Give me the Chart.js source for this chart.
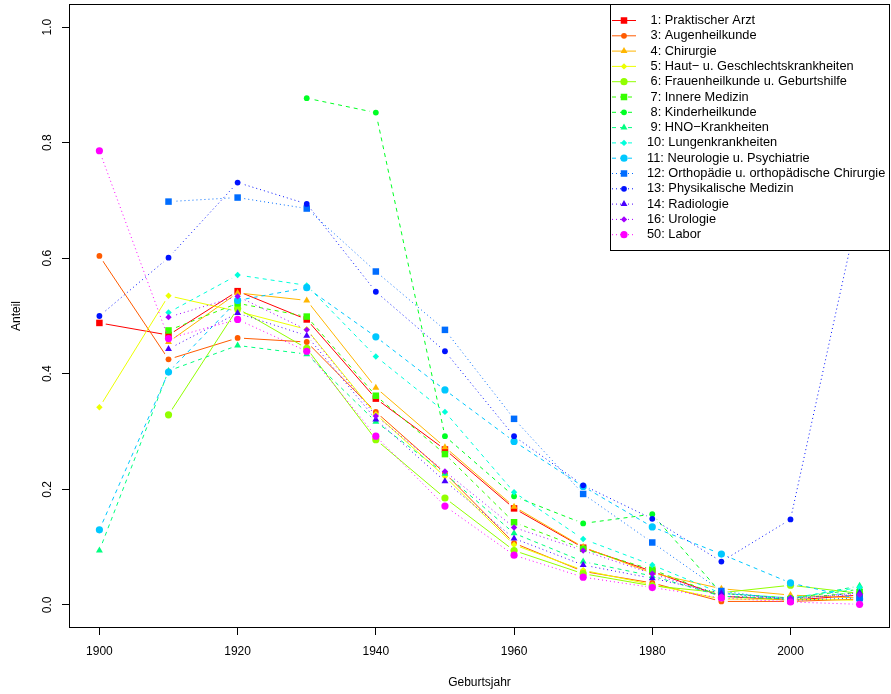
<!DOCTYPE html>
<html>
<head>
<meta charset="utf-8">
<script src="https://cdn.jsdelivr.net/npm/chart.js@4/dist/chart.umd.min.js"></script>
<style>
  html, body { margin: 0; padding: 0; background: #fff; }
  canvas { display: block; }
</style>
</head>
<body>
<canvas id="chart" width="891" height="694"></canvas>
<script>
// Birth-year cohorts (x) and share per specialty (y)
const years = [1900, 1910, 1920, 1930, 1940, 1950, 1960, 1970, 1980, 1990, 2000, 2010];
const xTickValues = [1900, 1920, 1940, 1960, 1980, 2000];
const yTickValues = [0, 0.2, 0.4, 0.6, 0.8, 1.0];

const seriesNames = [
  ' 1: Praktischer Arzt',
  ' 3: Augenheilkunde',
  ' 4: Chirurgie',
  ' 5: Haut\u2212 u. Geschlechtskrankheiten',
  ' 6: Frauenheilkunde u. Geburtshilfe',
  ' 7: Innere Medizin',
  ' 8: Kinderheilkunde',
  ' 9: HNO\u2212Krankheiten',
  '10: Lungenkrankheiten',
  '11: Neurologie u. Psychiatrie',
  '12: Orthopädie u. orthopädische Chirurgie',
  '13: Physikalische Medizin',
  '14: Radiologie',
  '16: Urologie',
  '50: Labor'
];

const praktischerArzt   = [0.488, 0.467, 0.543, 0.494, 0.357, 0.269, 0.167, 0.099, 0.058, 0.015, 0.008, 0.017];
const augenheilkunde    = [0.604, 0.425, 0.462, 0.455, 0.334, 0.228, 0.107, 0.058, 0.038, 0.006, 0.006, 0.010];
const chirurgie         = [null,  0.455, 0.540, 0.527, 0.376, 0.273, 0.170, 0.100, 0.055, 0.028, 0.017, 0.012];
const hautGeschlecht    = [0.342, 0.535, 0.508, 0.477, 0.330, 0.222, 0.104, 0.060, 0.035, 0.010, 0.010, 0.008];
const frauenheilkunde   = [null,  0.329, 0.513, 0.444, 0.286, 0.185, 0.094, 0.054, 0.033, 0.021, 0.034, 0.020];
const innereMedizin     = [null,  0.475, 0.522, 0.499, 0.362, 0.261, 0.143, 0.097, 0.061, 0.015, 0.010, 0.022];
const kinderheilkunde   = [null,  null,  null,  0.877, 0.852, 0.292, 0.188, 0.141, 0.157, 0.020, 0.012, 0.027];
const hnoKrankheiten    = [0.094, 0.405, 0.449, 0.434, 0.317, 0.227, 0.124, 0.075, 0.050, 0.015, 0.010, 0.033];
const lungenkrankheiten = [null,  0.506, 0.571, 0.553, 0.430, 0.334, 0.195, 0.114, 0.069, 0.020, 0.012, 0.030];
const neurologie        = [0.130, 0.403, 0.527, 0.549, 0.464, 0.372, 0.283, 0.205, 0.135, 0.088, 0.038, 0.010];
const orthopaedie       = [null,  0.698, 0.705, 0.686, 0.577, 0.476, 0.322, 0.192, 0.108, 0.024, 0.008, 0.012];
const physikalisch      = [0.500, 0.601, 0.731, 0.694, 0.542, 0.439, 0.292, 0.207, 0.149, 0.075, 0.148, 0.693];
const radiologie        = [null,  0.443, 0.505, 0.466, 0.321, 0.214, 0.115, 0.069, 0.046, 0.020, 0.010, 0.021];
const urologie          = [null,  0.498, 0.534, 0.476, 0.327, 0.231, 0.134, 0.094, 0.054, 0.015, 0.012, 0.018];
const labor             = [0.786, 0.461, 0.494, 0.439, 0.292, 0.171, 0.086, 0.048, 0.030, 0.012, 0.005, 0.001];

const seriesValues = [
  praktischerArzt, augenheilkunde, chirurgie, hautGeschlecht, frauenheilkunde,
  innereMedizin, kinderheilkunde, hnoKrankheiten, lungenkrankheiten, neurologie,
  orthopaedie, physikalisch, radiologie, urologie, labor
];

// Styling: rainbow palette, line type and marker per series
const palette = ['#FF0000', '#FF5B00', '#FFB600', '#EDFF00', '#92FF00',
                 '#37FF00', '#00FF24', '#00FF80', '#00FFDB', '#00C8FF',
                 '#006DFF', '#0012FF', '#4900FF', '#A400FF', '#FF00FF'];
const dashFor = i => (i < 5 ? [] : i < 10 ? [4, 4] : [1, 3]);
const markerCycle = [
  { style: 'rect', radius: 4.6 },
  { style: 'circle', radius: 2.9 },
  { style: 'triangle', radius: 4.0 },
  { style: 'rectRot', radius: 3.2 },
  { style: 'circle', radius: 3.6 }
];
const FONT = '"Liberation Sans", Arial, Helvetica, sans-serif';
const GAP = 6.5;

const datasets = seriesValues.map((vals, i) => {
  const m = markerCycle[i % 5];
  return {
    label: seriesNames[i],
    data: years.map((y, k) => ({ x: y, y: vals[k] })),
    borderColor: palette[i],
    backgroundColor: palette[i],
    borderWidth: 1,
    borderDash: dashFor(i),
    pointStyle: m.style,
    pointRadius: m.radius,
    pointHoverRadius: m.radius,
    pointBackgroundColor: palette[i],
    pointBorderWidth: 0,
    tension: 0,
    fill: false,
    spanGaps: false,
    order: seriesValues.length - i
  };
});

// Lines stop short of each marker, then the markers are drawn on top
const pointGaps = {
  id: 'pointGaps',
  beforeDatasetDraw(chart, args) {
    const ctx = chart.ctx, a = chart.chartArea;
    ctx.save();
    ctx.beginPath();
    ctx.rect(a.left - 2, a.top - 2, a.right - a.left + 4, a.bottom - a.top + 4);
    args.meta.data.forEach(p => {
      if (p.skip) return;
      ctx.moveTo(p.x + GAP, p.y);
      ctx.arc(p.x, p.y, GAP, 0, Math.PI * 2);
    });
    ctx.clip('evenodd');
  },
  afterDatasetDraw(chart, args) {
    const ctx = chart.ctx;
    ctx.restore();
    args.meta.data.forEach(p => { if (!p.skip) p.draw(ctx, chart.chartArea); });
  }
};

function markerPath(ctx, style, r, x, y) {
  if (Chart.helpers && Chart.helpers.drawPoint) {
    Chart.helpers.drawPoint(ctx, { pointStyle: style, radius: r, rotation: 0, borderWidth: 0 }, x, y);
    return;
  }
  ctx.beginPath();
  if (style === 'rect') {
    const s = Math.SQRT1_2 * r;
    ctx.rect(x - s, y - s, 2 * s, 2 * s);
  } else if (style === 'triangle') {
    ctx.moveTo(x, y - r);
    ctx.lineTo(x + r * Math.sin(2 * Math.PI / 3), y + r / 2);
    ctx.lineTo(x - r * Math.sin(2 * Math.PI / 3), y + r / 2);
    ctx.closePath();
  } else if (style === 'rectRot') {
    ctx.moveTo(x - r, y); ctx.lineTo(x, y - r); ctx.lineTo(x + r, y); ctx.lineTo(x, y + r);
    ctx.closePath();
  } else {
    ctx.arc(x, y, r, 0, Math.PI * 2);
  }
  ctx.fill();
}

// Plot frame and the boxed legend in the top-right corner
const frameAndLegend = {
  id: 'frameAndLegend',
  afterDraw(chart) {
    const ctx = chart.ctx, a = chart.chartArea;
    ctx.save();
    ctx.strokeStyle = '#000';
    ctx.lineWidth = 1;
    ctx.setLineDash([]);
    ctx.strokeRect(a.left + 0.5, a.top + 0.5, a.right - a.left - 1, a.bottom - a.top - 1);

    const boxW = 280, boxH = 246;
    const bx = a.right - boxW, by = a.top;
    ctx.fillStyle = '#fff';
    ctx.fillRect(bx + 0.5, by + 0.5, boxW - 1, boxH);
    ctx.strokeRect(bx + 0.5, by + 0.5, boxW - 1, boxH);

    ctx.font = '12.8px ' + FONT;
    ctx.textBaseline = 'middle';
    ctx.textAlign = 'left';
    chart.data.datasets.forEach((ds, i) => {
      const y = by + 16.5 + i * 15.3;
      ctx.strokeStyle = ds.borderColor;
      ctx.lineWidth = 1;
      ctx.setLineDash(ds.borderDash);
      ctx.beginPath();
      ctx.moveTo(bx + 2, y);
      ctx.lineTo(bx + 26, y);
      ctx.stroke();
      ctx.setLineDash([]);
      ctx.fillStyle = ds.borderColor;
      markerPath(ctx, ds.pointStyle, ds.pointRadius, bx + 14, y);
      ctx.fillStyle = '#000';
      ctx.fillText(ds.label, bx + 37, y);
    });
    ctx.restore();
  }
};

new Chart(document.getElementById('chart'), {
  type: 'line',
  data: { datasets },
  options: {
    responsive: false,
    animation: false,
    events: [],
    layout: { autoPadding: false, padding: { top: 4, right: 1, bottom: 0, left: 0 } },
    plugins: { legend: { display: false }, tooltip: { enabled: false } },
    scales: {
      x: {
        type: 'linear',
        min: 1895.6,
        max: 2014.4,
        afterBuildTicks: s => { s.ticks = xTickValues.map(v => ({ value: v })); },
        afterFit: s => { s.height = 66; s.paddingLeft = 0; s.paddingRight = 0; },
        ticks: {
          autoSkip: false, maxRotation: 0, padding: 9, color: '#000',
          font: { family: FONT, size: 12 },
          callback: v => String(v)
        },
        grid: { drawOnChartArea: false, tickLength: 7, color: '#000', lineWidth: 1 },
        border: { display: false },
        title: {
          display: true, text: 'Geburtsjahr', color: '#000',
          font: { family: FONT, size: 12 }, padding: { top: 0, bottom: 4 }
        }
      },
      y: {
        type: 'linear',
        min: -0.04,
        max: 1.04,
        afterBuildTicks: s => { s.ticks = yTickValues.map(v => ({ value: v })); },
        afterFit: s => { s.width = 69; s.paddingTop = 0; s.paddingBottom = 0; },
        ticks: {
          minRotation: 90, maxRotation: 90, crossAlign: 'center', padding: 6,
          color: '#000', font: { family: FONT, size: 12 },
          callback: v => Number(v).toFixed(1)
        },
        grid: { drawOnChartArea: false, tickLength: 7, color: '#000', lineWidth: 1 },
        border: { display: false },
        title: {
          display: true, text: 'Anteil', color: '#000',
          font: { family: FONT, size: 12 }, padding: { top: 9, bottom: 0 }
        }
      }
    }
  },
  plugins: [pointGaps, frameAndLegend]
});
</script>
</body>
</html>
